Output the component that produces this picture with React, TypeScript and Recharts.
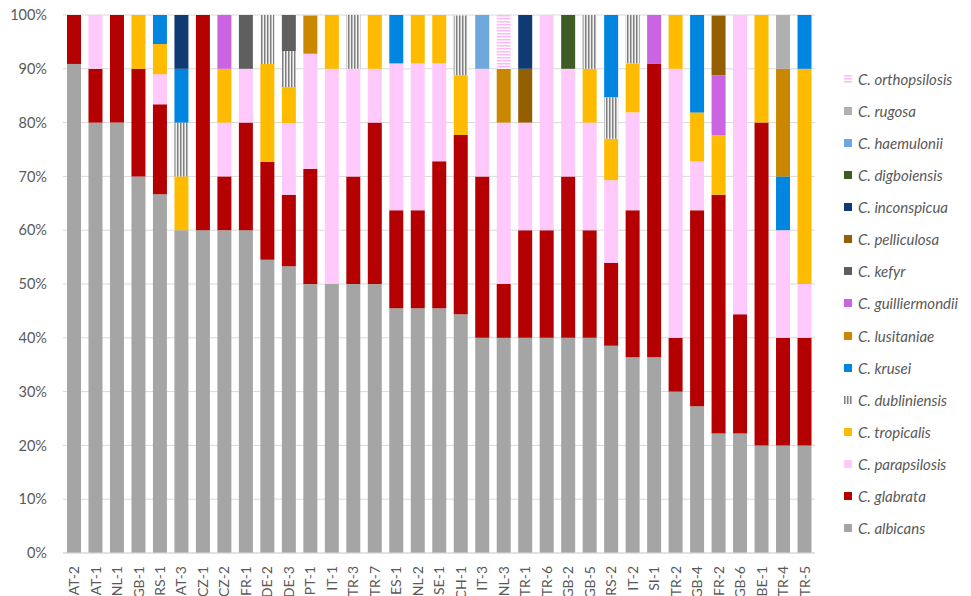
import { BarChart, Bar, XAxis, YAxis, CartesianGrid } from "recharts";

const categories = [
  "AT-2", "AT-1", "NL-1", "GB-1", "RS-1", "AT-3", "CZ-1", "CZ-2", "FR-1", "DE-2",
  "DE-3", "PT-1", "IT-1", "TR-3", "TR-7", "ES-1", "NL-2", "SE-1", "CH-1", "IT-3",
  "NL-3", "TR-1", "TR-6", "GB-2", "GB-5", "RS-2", "IT-2", "SI-1", "TR-2", "GB-4",
  "FR-2", "GB-6", "BE-1", "TR-4", "TR-5",
];

const albicans = [90.9, 80, 80, 70, 66.7, 60, 60, 60, 60, 54.5, 53.3, 50, 50, 50, 50, 45.5, 45.5, 45.5, 44.4, 40, 40, 40, 40, 40, 40, 38.5, 36.4, 36.4, 30, 27.3, 22.2, 22.2, 20, 20, 20];
const glabrata = [9.1, 10, 20, 20, 16.7, 0, 40, 10, 20, 18.2, 13.3, 21.4, 0, 20, 30, 18.2, 18.2, 27.3, 33.3, 30, 10, 20, 20, 30, 20, 15.4, 27.3, 54.5, 10, 36.4, 44.4, 22.2, 60, 20, 20];
const parapsilosis = [0, 10, 0, 0, 5.6, 0, 0, 10, 10, 0, 13.3, 21.4, 40, 20, 10, 27.3, 27.3, 18.2, 0, 20, 30, 20, 40, 20, 20, 15.4, 18.2, 0, 50, 9.1, 0, 55.6, 0, 20, 10];
const tropicalis = [0, 0, 0, 10, 5.6, 10, 0, 10, 0, 18.2, 6.7, 0, 10, 0, 10, 0, 9.1, 9.1, 11.1, 0, 0, 0, 0, 0, 10, 7.7, 9.1, 0, 10, 9.1, 11.1, 0, 20, 0, 40];
const dubliniensis = [0, 0, 0, 0, 0, 10, 0, 0, 0, 9.1, 6.7, 0, 0, 10, 0, 0, 0, 0, 11.1, 0, 0, 0, 0, 0, 10, 7.7, 9.1, 0, 0, 0, 0, 0, 0, 0, 0];
const krusei = [0, 0, 0, 0, 5.6, 10, 0, 0, 0, 0, 0, 0, 0, 0, 0, 9.1, 0, 0, 0, 0, 0, 0, 0, 0, 0, 15.4, 0, 0, 0, 18.2, 0, 0, 0, 10, 10];
const lusitaniae = [0, 0, 0, 0, 0, 0, 0, 0, 0, 0, 0, 7.1, 0, 0, 0, 0, 0, 0, 0, 0, 10, 0, 0, 0, 0, 0, 0, 0, 0, 0, 0, 0, 0, 20, 0];
const guilliermondii = [0, 0, 0, 0, 0, 0, 0, 10, 0, 0, 0, 0, 0, 0, 0, 0, 0, 0, 0, 0, 0, 0, 0, 0, 0, 0, 0, 9.1, 0, 0, 11.1, 0, 0, 0, 0];
const kefyr = [0, 0, 0, 0, 0, 0, 0, 0, 10, 0, 6.7, 0, 0, 0, 0, 0, 0, 0, 0, 0, 0, 0, 0, 0, 0, 0, 0, 0, 0, 0, 0, 0, 0, 0, 0];
const pelliculosa = [0, 0, 0, 0, 0, 0, 0, 0, 0, 0, 0, 0, 0, 0, 0, 0, 0, 0, 0, 0, 0, 10, 0, 0, 0, 0, 0, 0, 0, 0, 11.1, 0, 0, 0, 0];
const inconspicua = [0, 0, 0, 0, 0, 10, 0, 0, 0, 0, 0, 0, 0, 0, 0, 0, 0, 0, 0, 0, 0, 10, 0, 0, 0, 0, 0, 0, 0, 0, 0, 0, 0, 0, 0];
const digboiensis = [0, 0, 0, 0, 0, 0, 0, 0, 0, 0, 0, 0, 0, 0, 0, 0, 0, 0, 0, 0, 0, 0, 0, 10, 0, 0, 0, 0, 0, 0, 0, 0, 0, 0, 0];
const haemulonii = [0, 0, 0, 0, 0, 0, 0, 0, 0, 0, 0, 0, 0, 0, 0, 0, 0, 0, 0, 10, 0, 0, 0, 0, 0, 0, 0, 0, 0, 0, 0, 0, 0, 0, 0];
const rugosa = [0, 0, 0, 0, 0, 0, 0, 0, 0, 0, 0, 0, 0, 0, 0, 0, 0, 0, 0, 0, 0, 0, 0, 0, 0, 0, 0, 0, 0, 0, 0, 0, 0, 10, 0];
const orthopsilosis = [0, 0, 0, 0, 0, 0, 0, 0, 0, 0, 0, 0, 0, 0, 0, 0, 0, 0, 0, 0, 10, 0, 0, 0, 0, 0, 0, 0, 0, 0, 0, 0, 0, 0, 0];

const yTicks = [0, 10, 20, 30, 40, 50, 60, 70, 80, 90, 100];

// stack order, bottom to top
const series = [
  { key: "albicans", label: "C. albicans", fill: "#A5A5A5", values: albicans },
  { key: "glabrata", label: "C. glabrata", fill: "#B40000", values: glabrata },
  { key: "parapsilosis", label: "C. parapsilosis", fill: "#FFCAFB", values: parapsilosis },
  { key: "tropicalis", label: "C. tropicalis", fill: "#FFBB00", values: tropicalis },
  { key: "dubliniensis", label: "C. dubliniensis", fill: "url(#pat-dub)", values: dubliniensis },
  { key: "krusei", label: "C. krusei", fill: "#0086E0", values: krusei },
  { key: "lusitaniae", label: "C. lusitaniae", fill: "#CA8800", values: lusitaniae },
  { key: "guilliermondii", label: "C. guilliermondii", fill: "#CA64E2", values: guilliermondii },
  { key: "kefyr", label: "C. kefyr", fill: "#5F5F5F", values: kefyr },
  { key: "pelliculosa", label: "C. pelliculosa", fill: "#935F00", values: pelliculosa },
  { key: "inconspicua", label: "C. inconspicua", fill: "#0F3A74", values: inconspicua },
  { key: "digboiensis", label: "C. digboiensis", fill: "#3D5C25", values: digboiensis },
  { key: "haemulonii", label: "C. haemulonii", fill: "#6EA8DC", values: haemulonii },
  { key: "rugosa", label: "C. rugosa", fill: "#B0B0B0", values: rugosa },
  { key: "orthopsilosis", label: "C. orthopsilosis", fill: "url(#pat-ortho)", values: orthopsilosis },
];

const data = categories.map((name, i) => {
  const row: Record<string, string | number> = { name };
  series.forEach((s) => (row[s.key] = s.values[i]));
  return row;
});

const FONT = "Lato, 'Liberation Sans', sans-serif";
const TEXT = "#595959";

const XTick = ({ x, payload }: any) => (
  <text
    x={0}
    y={0}
    transform={`translate(${x},566) rotate(-90)`}
    textAnchor="end"
    dy="0.38em"
    fill={TEXT}
    fontSize={14}
    fontFamily={FONT}
  >
    {payload.value}
  </text>
);

const Patterns = () => (
  <svg width={0} height={0} style={{ position: "absolute" }}>
    <defs>
      <pattern id="pat-dub" width={3} height={4} patternUnits="userSpaceOnUse">
        <rect width={3} height={4} fill="#F2F2F2" />
        <rect width={1.5} height={4} fill="#7F7F7F" />
      </pattern>
      <pattern id="pat-ortho" width={4} height={3} patternUnits="userSpaceOnUse">
        <rect width={4} height={3} fill="#FFFFFF" />
        <rect width={4} height={1.5} fill="#FFB8F6" />
      </pattern>
    </defs>
  </svg>
);

const ChartLegend = () => (
  <div style={{ position: "absolute", left: 844, top: 69, fontFamily: FONT }}>
    {[...series].reverse().map((s) => (
      <div
        key={s.key}
        style={{ display: "flex", alignItems: "center", height: 32.07 - 12, marginBottom: 12 }}
      >
        <svg width={8} height={8} style={{ marginRight: 6 }}>
          <rect width={8} height={8} fill={s.fill} />
        </svg>
        <span style={{ fontSize: 15, fontStyle: "italic", color: TEXT }}>{s.label}</span>
      </div>
    ))}
  </div>
);

export default function App() {
  return (
    <div style={{ position: "absolute", left: 0, top: 0, width: 971, height: 596, background: "#fff" }}>
      <Patterns />
      <BarChart
        width={971}
        height={596}
        data={data}
        margin={{ top: 15, right: 156, left: 0, bottom: 0 }}
      >
        <CartesianGrid vertical={false} stroke="#D9D9D9" />
        <XAxis
          dataKey="name"
          interval={0}
          height={43}
          axisLine={{ stroke: "#D9D9D9" }}
          tickLine={false}
          tick={<XTick />}
        />
        <YAxis
          width={63}
          domain={[0, 100]}
          ticks={yTicks}
          allowDataOverflow
          axisLine={false}
          tickLine={false}
          tickMargin={10}
          tickFormatter={(v) => `${v}%`}
          tick={{ fill: TEXT, fontSize: 14.5, fontFamily: FONT }}
        />
        {series.map((s) => (
          <Bar
            key={s.key}
            dataKey={s.key}
            stackId="a"
            fill={s.fill}
            barSize={14}
            isAnimationActive={false}
          />
        ))}
      </BarChart>
      <ChartLegend />
    </div>
  );
}
